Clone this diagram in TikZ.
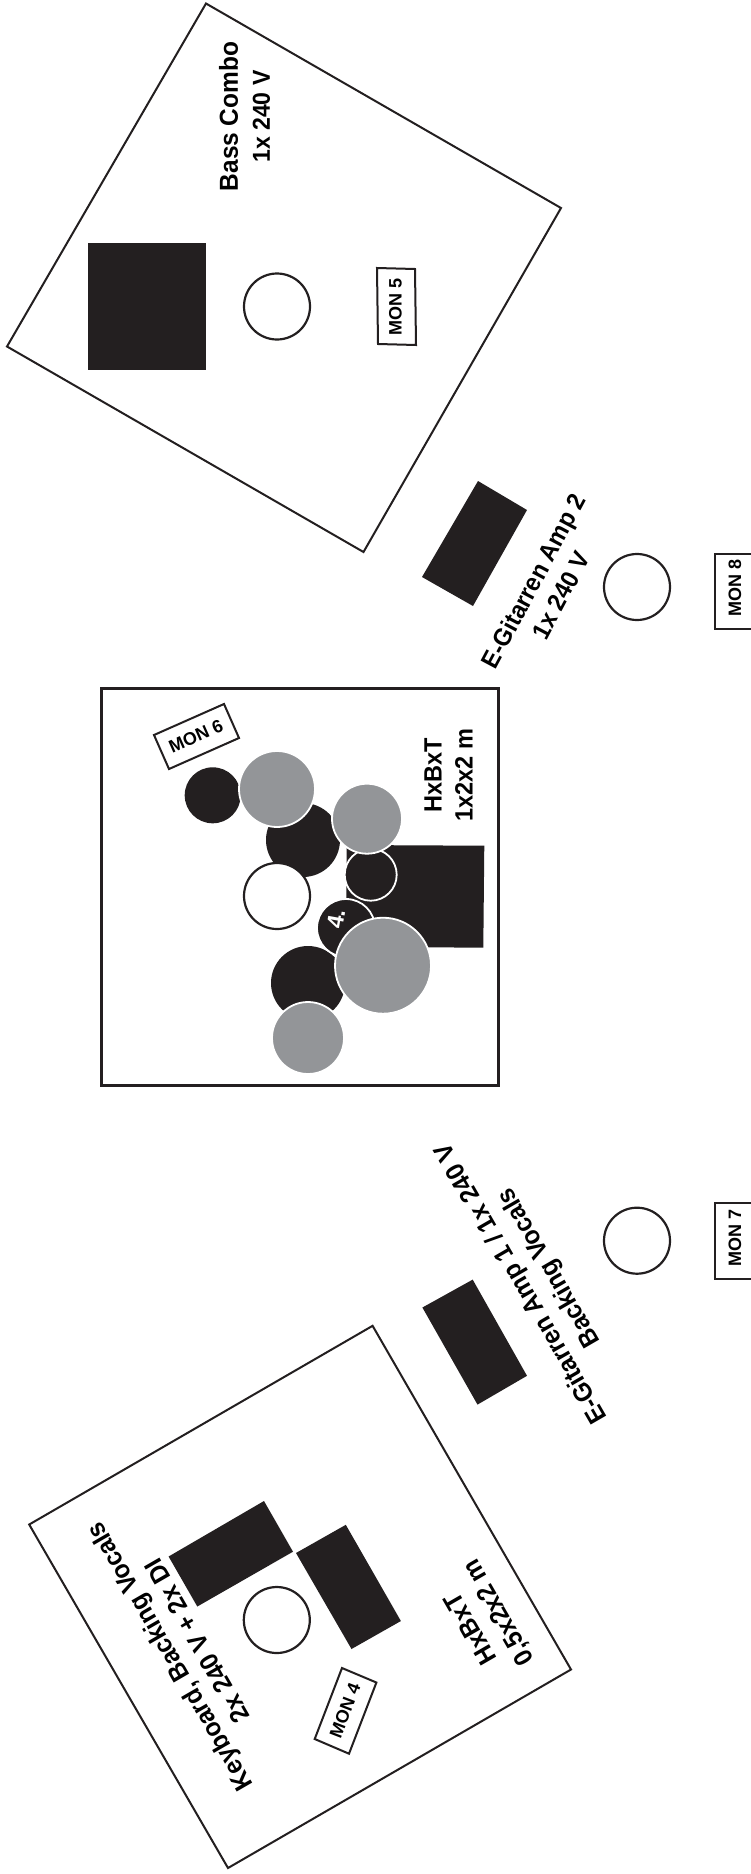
\documentclass[tikz,border=0pt]{standalone}
\usepackage{fontspec}
\setmainfont{Liberation Sans}
\newfontfamily\lab[UprightFont=* Bold,FakeStretch=0.94]{Liberation Sans}
\definecolor{ink}{HTML}{231F20}
\definecolor{greyc}{HTML}{939598}
\tikzset{
  stagequad/.style={draw=ink,line width=2pt,fill=white,line join=miter},
  amp/.style={fill=ink,draw=none},
  vox/.style={circle,draw=ink,line width=2.2pt,fill=white,inner sep=0pt,minimum size=66pt},
  blk/.style={circle,fill=ink,inner sep=0pt},
  blkw/.style={circle,fill=ink,draw=white,line width=1.8pt,inner sep=0pt},
  gry/.style={circle,fill=greyc,draw=white,line width=1.8pt,inner sep=0pt},
  monbox/.style={draw=ink,line width=2pt,fill=white},
  montxt/.style={font=\fontsize{18}{20}\selectfont\bfseries,text=black,inner sep=0pt},
  lbl/.style={font=\lab\fontsize{26}{32}\selectfont,text=black,align=center,inner sep=0pt},
}
\newcommand{\smallline}{\fontsize{24.5}{32}\selectfont}
\begin{document}
\begin{tikzpicture}[x=1pt,y=-1pt]
\useasboundingbox (0,0) rectangle (751,1874);
% top riser
\draw[stagequad] (206,3.5) -- (561,208) -- (363.5,552) -- (7,346.5) -- cycle;
\fill[amp] (88,243) rectangle (206.4,370);
\node[vox] (v5) at (277,306.5) {};
\draw[monbox] (377,268) -- (415,269) -- (416,345) -- (378,344) -- cycle;
\node[montxt,rotate=90] (m5) at (395.5,306.5) {MON 5};
\node[lbl,rotate=90] (t5) at (244.5,116.5) {Bass Combo\\\smallline 1x 240 V};
% amp 2
\fill[amp] (478,481) -- (527,510) -- (473,606) -- (422,577) -- cycle;
\node[lbl,rotate=62,font=\lab\fontsize{25}{31}\selectfont] (t8) at (547,588) {E-Gitarren Amp 2\\1x 240 V};
\node[vox] (v8) at (637,587) {};
\draw[monbox] (715,553.5) rectangle (753,629);
\node[montxt,rotate=90] (m8) at (735,588) {MON 8};
% centre square
\draw[ink,line width=2.2pt,fill=white] (101.5,688.5) rectangle (498.5,1085.5);
\draw[monbox] (154,735) -- (224,704) -- (239,738) -- (169,769) -- cycle;
\node[montxt,rotate=24] (m6) at (196,736) {MON 6};
\fill[amp] (346.7,845) -- (484.3,845.7) -- (483.3,947.7) -- (346,946.7) -- cycle;
\node[blk,minimum size=56pt] (b1) at (212.7,795.3) {};
\node[blk,minimum size=74pt] (b2) at (303,840) {};
\node[gry,minimum size=76pt] (g1) at (277,789) {};
\node[blkw,minimum size=52pt] (b3) at (370.7,874.7) {};
\node[gry,minimum size=70pt] (g2) at (367,818.7) {};
\node[vox] (v6) at (277,896) {};
\node[blk,minimum size=74pt] (b4) at (308,983) {};
\node[blkw,minimum size=58pt] (b5) at (346,928) {};
\node[font=\fontsize{23}{25}\selectfont\bfseries,text=white,rotate=80,inner sep=0pt] (n4) at (336,919) {4.};
\node[gry,minimum size=96pt] (g3) at (383,965.7) {};
\node[gry,minimum size=72pt] (g4) at (308,1038) {};
\node[lbl,rotate=90,font=\lab\fontsize{25}{31}\selectfont] (t6) at (448.5,775) {HxBxT\\1x2x2 m};
% amp 1
\fill[amp] (472.7,1279.6) -- (527,1375.8) -- (477.5,1404.6) -- (422.4,1307.5) -- cycle;
\node[lbl,rotate=120] (t7) at (536,1275) {E-Gitarren Amp 1 / 1x 240 V\\Backing Vocals};
\node[vox] (v7) at (637,1240.7) {};
\draw[monbox] (715,1202.7) rectangle (753,1279);
\node[montxt,rotate=90] (m7) at (735,1238) {MON 7};
% bottom riser
\draw[stagequad] (372.6,1325.8) -- (571,1669.5) -- (228,1868) -- (29.2,1524.5) -- cycle;
\fill[amp] (264,1501) -- (293,1551.7) -- (197.3,1606.5) -- (168.6,1556.5) -- cycle;
\fill[amp] (345.8,1524.8) -- (400.9,1621) -- (351.5,1649) -- (296,1553) -- cycle;
\node[vox] (v4) at (276.8,1620) {};
\draw[monbox] (342,1668) -- (376.4,1682.5) -- (349,1753.7) -- (314.7,1739) -- cycle;
\node[montxt,rotate=69] (m4) at (345,1711) {MON 4};
\node[lbl,rotate=120] (t4) at (183,1649) {Keyboard, Backing Vocals\\2x 240 V + 2x DI};
\node[lbl,rotate=120] (t4b) at (485.5,1620) {HxBxT\\0,5x2x2 m};
\end{tikzpicture}
\end{document}
